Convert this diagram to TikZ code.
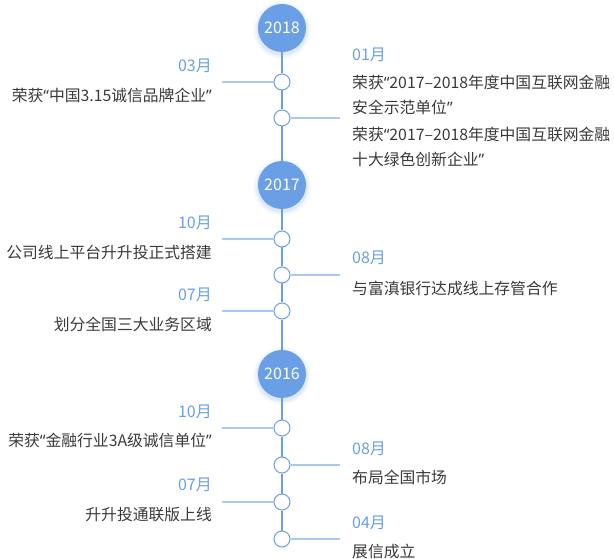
\documentclass[tikz,border=0pt]{standalone}
\usepackage{fontspec}
\setmainfont{Noto Sans CJK SC}
\newfontfamily\latinfont{Noto Sans}
\newcommand\oq{{\latinfont “}}
\newcommand\cq{{\latinfont ”}}
\usetikzlibrary{positioning}
\definecolor{yearblue}{HTML}{6A9FE6}
\definecolor{tickblue}{HTML}{A9C8F2}
\definecolor{textgray}{HTML}{3A3A3A}

\begin{document}
\begin{tikzpicture}[x=1pt,y=-1pt,
    year/.style={circle,fill=yearblue,text=white,minimum size=48pt,inner sep=0pt,font=\fontsize{16}{16}\selectfont},
    dot/.style={circle,draw=yearblue,fill=white,minimum size=16pt,inner sep=0pt,line width=1pt},
    month/.style={text=yearblue,inner sep=0pt,font=\fontsize{16}{16}\selectfont},
    desc/.style={text=textgray,inner sep=0pt,align=left,font=\fontsize{15.8}{25}\selectfont},
    tick/.style={draw=tickblue,line width=2pt},
    axis/.style={draw=yearblue,line width=2pt}]
      \useasboundingbox (0,0) rectangle (614,559);
      % glow round the years
      \foreach \y in {28,185,374}
        \foreach \r/\o in {29/0.05,27/0.08,25.5/0.12}
          \fill[yearblue,opacity=\o] (282,\y+2) circle (\r);
      \node[year] (y18) at (282,28) {2018};
      \node[year] (y17) at (282,185) {2017};
      \node[year] (y16) at (282,374) {2016};
      \node[dot] (d1) at (282,82) {};
      \node[dot] (d2) at (282,118) {};
      \node[dot] (d3) at (282,239) {};
      \node[dot] (d4) at (282,275) {};
      \node[dot] (d5) at (282,311) {};
      \node[dot] (d6) at (282,428) {};
      \node[dot] (d7) at (282,465) {};
      \node[dot] (d8) at (282,502) {};
      \node[dot] (d9) at (282,539) {};
      \path[axis] (y18) -- (d1) -- (d2) -- (y17) -- (d3) -- (d4) -- (d5)
        -- (y16) -- (d6) -- (d7) -- (d8) -- (d9);
      % side ticks
      \coordinate (l1) at (222,82);
      \coordinate (r2) at (340,118);
      \coordinate (l3) at (222,239);
      \coordinate (r4) at (340,275);
      \coordinate (l5) at (222,311);
      \coordinate (l6) at (222,428);
      \coordinate (r7) at (340,465);
      \coordinate (l8) at (222,502);
      \coordinate (r9) at (340,539);
      \path[tick] (l1) -- (d1) (d2) -- (r2) (l3) -- (d3) (d4) -- (r4)
        (l5) -- (d5) (l6) -- (d6) (d7) -- (r7) (l8) -- (d8) (d9) -- (r9);
      % 2018
      \node[month,anchor=east] (m1) at (212,66) {03月};
      \node[desc,anchor=east] (t1) at (212,95) {荣获\oq 中国3.15诚信品牌企业\cq};
      \node[month,anchor=west] (m2) at (352,55) {01月};
      \node[desc,anchor=west] (t2) at (352,95) {荣获\oq 2017–2018年度中国互联网金融\\安全示范单位\cq};
      \node[desc,anchor=west] (t2b) at (352,147) {荣获\oq 2017–2018年度中国互联网金融\\十大绿色创新企业\cq};
      % 2017
      \node[month,anchor=east] (m3) at (212,223) {10月};
      \node[desc,anchor=east] (t3) at (212,252) {公司线上平台升升投正式搭建};
      \node[month,anchor=west] (m4) at (352,258) {08月};
      \node[desc,anchor=west] (t4) at (352,288) {与富滇银行达成线上存管合作};
      \node[month,anchor=east] (m5) at (212,295) {07月};
      \node[desc,anchor=east] (t5) at (212,324) {划分全国三大业务区域};
      % 2016
      \node[month,anchor=east] (m6) at (212,412) {10月};
      \node[desc,anchor=east] (t6) at (212,440) {荣获\oq 金融行业3A级诚信单位\cq};
      \node[month,anchor=west] (m7) at (352,449) {08月};
      \node[desc,anchor=west] (t7) at (352,477) {布局全国市场};
      \node[month,anchor=east] (m8) at (212,485) {07月};
      \node[desc,anchor=east] (t8) at (212,515) {升升投通联版上线};
      \node[month,anchor=west] (m9) at (352,523) {04月};
      \node[desc,anchor=west] (t9) at (352,552) {展信成立};
\end{tikzpicture}
\end{document}
